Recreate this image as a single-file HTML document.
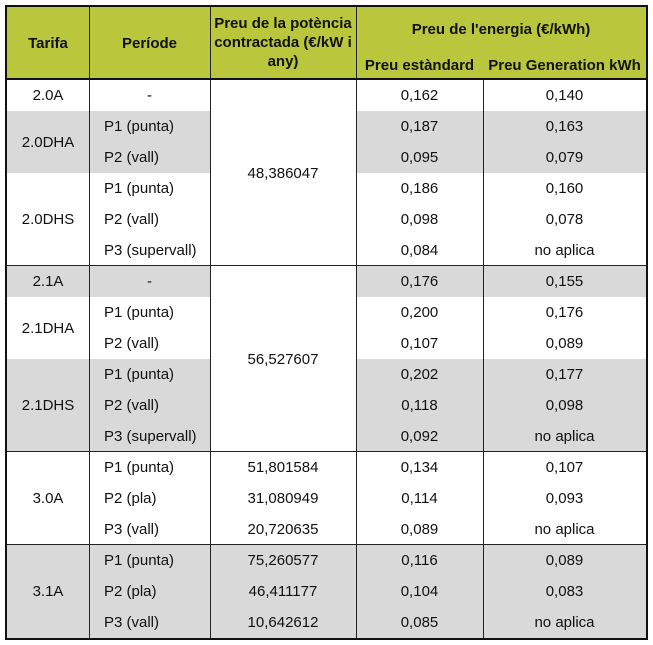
<!DOCTYPE html>
<html><head><meta charset="utf-8"><style>
body{margin:0;width:653px;height:645px;background:#fff;font-family:"Liberation Sans",Arial,sans-serif;position:relative;overflow:hidden;color:#111}
.a{position:absolute;box-sizing:border-box}
.t{position:absolute;display:flex;align-items:center;justify-content:center;text-align:center;font-size:15px;line-height:19px}
.h{font-weight:bold}
</style></head><body>
<div id="tbl"></div>
<script>
const rowsPeriod=["-","P1 (punta)","P2 (vall)","P1 (punta)","P2 (vall)","P3 (supervall)","-","P1 (punta)","P2 (vall)","P1 (punta)","P2 (vall)","P3 (supervall)","P1 (punta)","P2 (pla)","P3 (vall)","P1 (punta)","P2 (pla)","P3 (vall)"];
const priceStd=["0,162","0,187","0,095","0,186","0,098","0,084","0,176","0,200","0,107","0,202","0,118","0,092","0,134","0,114","0,089","0,116","0,104","0,085"];
const priceGen=["0,140","0,163","0,079","0,160","0,078","no aplica","0,155","0,176","0,089","0,177","0,098","no aplica","0,107","0,093","no aplica","0,089","0,083","no aplica"];
const tariffs=[["2.0A",0,1,0],["2.0DHA",1,2,1],["2.0DHS",3,3,0],["2.1A",6,1,1],["2.1DHA",7,2,0],["2.1DHS",9,3,1],["3.0A",12,3,0],["3.1A",15,3,1]];
const power=[["48,386047",0,6,0],["56,527607",6,6,0],["51,801584",12,1,0],["31,080949",13,1,0],["20,720635",14,1,0],["75,260577",15,1,1],["46,411177",16,1,1],["10,642612",17,1,1]];
const X=[7,89,210,356,483,646],Y0=80,RH=31,GRAY="#d9d9d9",GREEN="#bac63c";
const root=document.body;
function box(x,y,w,h,bg,name){const d=document.createElement('div');d.className='a';d.style.cssText=`left:${x}px;top:${y}px;width:${w}px;height:${h}px;background:${bg}`;


root.appendChild(d);return d;}
function txt(x,y,w,h,s,name,cls,pad){const d=document.createElement('div');d.className='t'+(cls?' '+cls:'');d.style.cssText=`left:${x}px;top:${y}px;width:${w}px;height:${h}px`+(pad?`;justify-content:flex-start;padding-left:${pad}px;box-sizing:border-box`:'');d.textContent=s;


root.appendChild(d);return d;}
// header
box(7,7,639,72,GREEN,'header-row');
txt(X[0],7,X[1]-X[0],72,'Tarifa','header-tarifa','h');
txt(X[1],7,X[2]-X[1],72,'Període','header-periode','h');
txt(X[2],9,X[3]-X[2],66,'Preu de la potència contractada (€/kW i any)','header-power-price','h');
txt(X[3],7,X[5]-X[3],44,"Preu de l'energia (€/kWh)",'header-energy-price','h');
txt(X[3],51,X[4]-X[3],28,'Preu estàndard','header-standard-price','h');
txt(X[4],51,X[5]-X[4],28,'Preu Generation kWh','header-generation-price','h');
// shading
tariffs.forEach(t=>{const y=Y0+t[1]*RH,h=t[2]*RH;if(t[3]){box(X[0],y,X[2]-X[0],h,GRAY,'shade-'+t[0]);box(X[3],y,X[5]-X[3],h,GRAY,'shade-energy-'+t[0]);}});
power.forEach(p=>{if(p[3])box(X[2],Y0+p[1]*RH,X[3]-X[2],p[2]*RH,GRAY,'shade-power');});
// text
tariffs.forEach(t=>txt(X[0],Y0+t[1]*RH,X[1]-X[0],t[2]*RH,t[0],'tariff-'+t[0]));
rowsPeriod.forEach((p,i)=>txt(X[1],Y0+i*RH,X[2]-X[1],RH,p,'period-cell',null,p=='-'?0:15));
power.forEach(p=>txt(X[2],Y0+p[1]*RH,X[3]-X[2],p[2]*RH,p[0],'power-price-cell'));
priceStd.forEach((p,i)=>txt(X[3],Y0+i*RH,X[4]-X[3],RH,p,'standard-price-cell'));
priceGen.forEach((p,i)=>txt(X[4],Y0+i*RH,X[5]-X[4],RH,p,'generation-price-cell'));
// lines
const L="#222";
[1,2,3].forEach(i=>box(X[i],7,1,631,L,'column-line'));
box(X[4],79,1,559,L,'column-line');
box(X[3],51,X[5]-X[3],0,L,'none');
box(5,78,643,2,"#111",'header-bottom-line');
[6,12,15].forEach(r=>box(7,Y0+r*RH-1,639,1,L,'group-line'));
const o=box(5,5,643,635,'transparent','outer-border');o.style.border='2px solid #111';
</script>
</body></html>
